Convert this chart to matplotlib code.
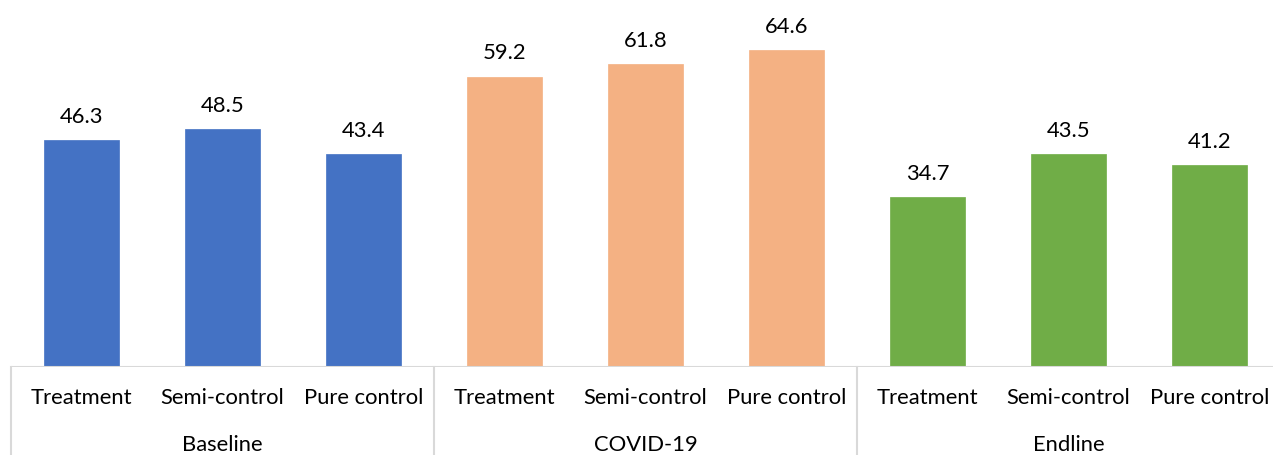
import matplotlib.pyplot as plt
from matplotlib.lines import Line2D

plt.rcParams['font.family'] = ['Lato', 'DejaVu Sans']

periods = ['Baseline', 'COVID-19', 'Endline']
groups = ['Treatment', 'Semi-control', 'Pure control']
baseline = [46.3, 48.5, 43.4]
covid = [59.2, 61.8, 64.6]
endline = [34.7, 43.5, 41.2]
colors = ['#4472C4', '#F4B183', '#70AD47']

W, H = 1273, 455
fig = plt.figure(figsize=(W / 100, H / 100), dpi=100)
# plot area runs a little past the right edge of the figure
ax = fig.add_axes([11 / W, 88 / H, 1269 / W, 367 / H])

grid = '#D9D9D9'
fs = 15.8
x = 0
for period, vals, c in zip(periods, [baseline, covid, endline], colors):
    pos = [x + i for i in range(len(vals))]
    ax.bar(pos, vals, width=0.525, color=c, edgecolor=c, linewidth=0.5)
    for p, v in zip(pos, vals):
        ax.text(p, v + 4.7, f'{v:.1f}', ha='center', va='center',
                fontsize=fs, color='#000000')
        ax.text(p, -6.4, groups[p - x], ha='center', va='center',
                fontsize=fs, color='#000000', clip_on=False)
    ax.text(x + 1, -15.8, period, ha='center', va='center', fontsize=fs,
            color='#000000', clip_on=False)
    x += len(vals)

ax.set_xlim(-0.5, 8.5)
ax.set_ylim(0, 74.8)
ax.axis('off')

# category axis line and group separators
ax.axhline(0, color=grid, linewidth=1.5)
for b in [-0.5, 2.5, 5.5, 8.5]:
    ax.add_line(Line2D([b, b], [0, -20], color=grid, linewidth=1.5,
                       clip_on=False))

fig.savefig('out.png', dpi=100)
